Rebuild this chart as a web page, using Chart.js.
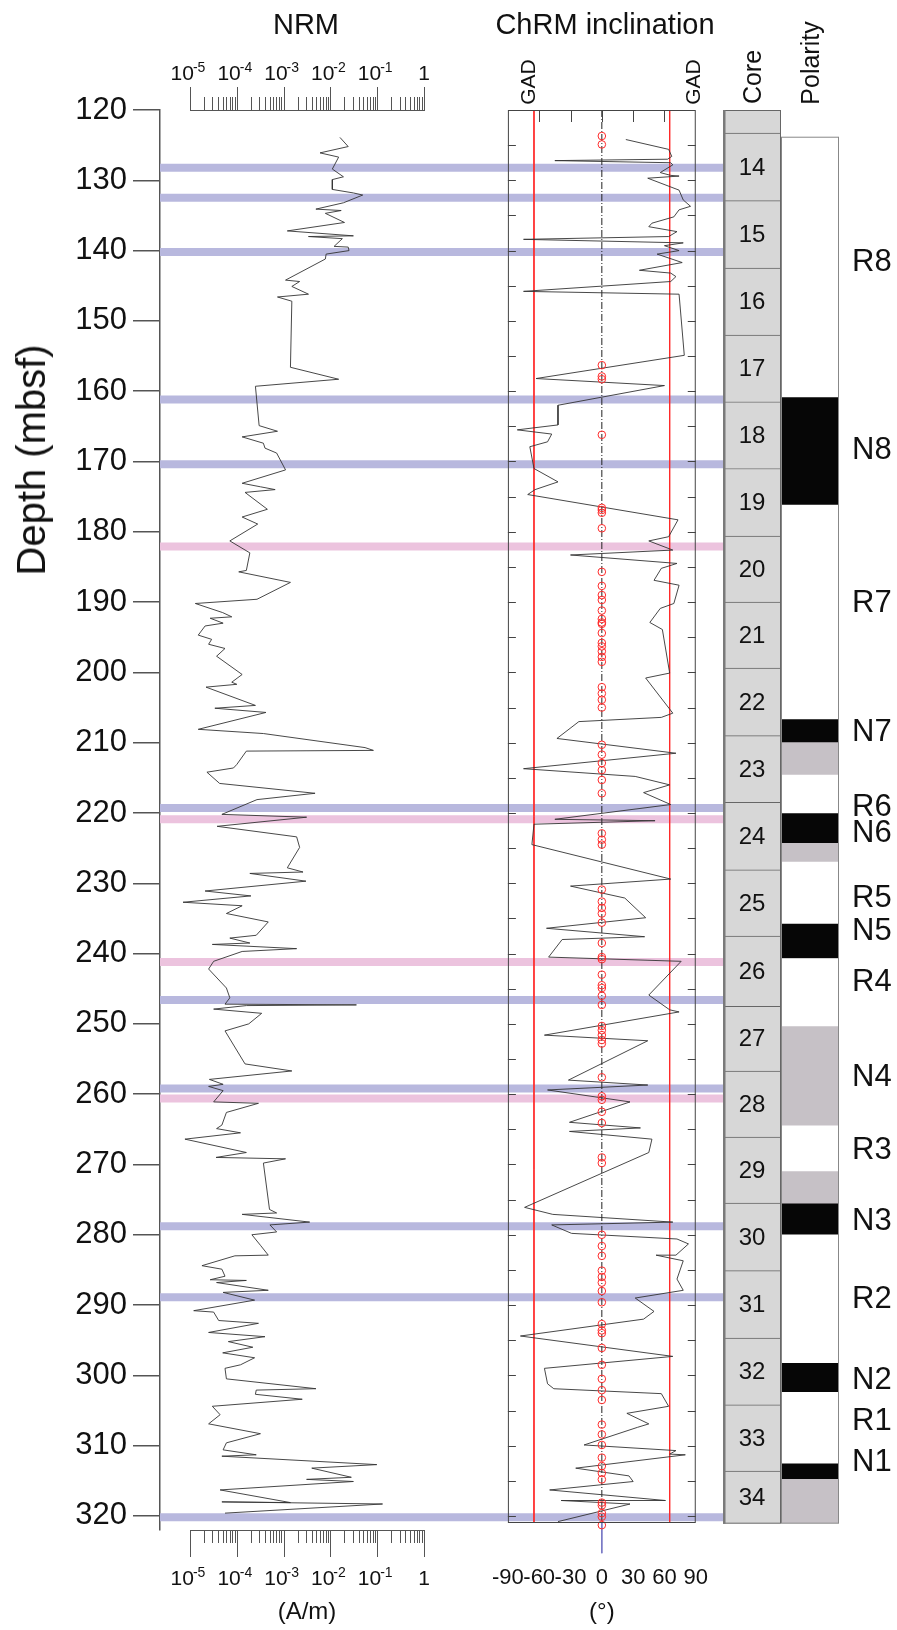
<!DOCTYPE html>
<html>
<head>
<meta charset="utf-8">
<script src="https://cdn.jsdelivr.net/npm/chart.js@4.4.1/dist/chart.umd.min.js"></script>
<style>
  body { margin: 0; background: #fff; }
  #wrap { position: relative; width: 897px; height: 1630px; font-family: Arial, "Liberation Sans", sans-serif; color: #111; }
  canvas { position: absolute; top: 0; }
  .t { position: absolute; white-space: nowrap; line-height: 1; transform: translate(-50%, -50%); }
  .r { transform: translate(-50%, -50%) rotate(-90deg); }
</style>
</head>
<body>
<div id="wrap">
  <canvas id="depthChart" width="723" height="1630" style="left:0"></canvas>
  <canvas id="nrmChart" width="300" height="1630" style="left:150px"></canvas>
  <canvas id="incChart" width="300" height="1630" style="left:450px"></canvas>
  <canvas id="coreChart" width="174" height="1630" style="left:723px"></canvas>

  <div class="t" style="left:306px;top:24px;font-size:29px">NRM</div>
  <div class="t" style="left:605px;top:24px;font-size:29px">ChRM inclination</div>
  <div class="t r" style="left:527px;top:82px;font-size:21px">GAD</div>
  <div class="t r" style="left:692px;top:82px;font-size:21px">GAD</div>
  <div class="t r" style="left:752px;top:77px;font-size:25px">Core</div>
  <div class="t r" style="left:810px;top:63px;font-size:25px">Polarity</div>
  <div class="t r" style="left:31px;top:460px;font-size:40px">Depth (mbsf)</div>
</div>

<script>
// depth axis
const depthTicks = [120, 130, 140, 150, 160, 170, 180, 190, 200, 210, 220, 230, 240, 250, 260, 270, 280, 290, 300, 310, 320];

// horizontal marker bands (depth, mbsf)
const blueBands = [128.2, 132.5, 140.2, 161.2, 170.4, 219.3, 246.6, 259.2, 278.8, 288.9, 320.2];
const pinkBands = [182.1, 220.9, 241.2, 260.6];

// NRM intensity (A/m)
const nrmTickValues = [1e-5, 1e-4, 1e-3, 1e-2, 1e-1, 1];
const nrmTickBase = ['10', '10', '10', '10', '10', '1'];
const nrmTickExp = ['-5', '-4', '-3', '-2', '-1', ''];
const nrmDepth = [
  123.9, 125.2, 126.1, 126.7, 128.4, 129.5, 129.9, 131.3, 131.8, 132.1,
  133.2, 134.1, 134.3, 134.7, 136.0, 137.2, 137.9, 138.0, 138.3, 139.4,
  139.5, 140.0, 140.5, 141.2, 144.2, 144.4, 145.1, 146.2, 146.6, 147.2,
  156.6, 158.3, 159.3, 164.9, 165.7, 166.5, 167.4, 168.1, 168.8, 171.2,
  173.1, 173.6, 174.0, 174.4, 176.8, 177.9, 178.9, 181.3, 183.0, 185.5,
  185.7, 187.2, 189.6, 190.2, 191.5, 192.1, 192.3, 193.0, 193.4, 194.7,
  195.3, 196.0, 196.6, 197.7, 200.3, 201.4, 201.7, 202.1, 204.7, 205.1,
  205.7, 208.1, 208.7, 210.7, 211.1, 211.2, 213.1, 213.6, 214.2, 215.8,
  217.2, 218.1, 220.2, 220.6, 221.9, 223.4, 224.9, 227.8, 228.4, 228.6,
  229.7, 231.1, 231.8, 232.7, 233.2, 234.3, 235.5, 237.4, 237.8, 238.5,
  238.7, 239.3, 239.7, 241.1, 242.2, 244.9, 246.3, 247.2, 247.3, 247.4,
  247.9, 248.5, 250.0, 251.0, 255.7, 256.7, 257.9, 258.6, 258.9, 259.5,
  261.1, 261.3, 262.6, 264.4, 264.9, 265.5, 266.4, 268.3, 269.0, 269.2,
  269.8, 276.4, 276.9, 277.1, 278.2, 278.6, 279.6, 280.0, 281.5, 282.9,
  283.0, 284.4, 284.9, 285.9, 286.4, 286.5, 286.8, 287.9, 288.2, 289.3,
  290.8, 291.0, 292.2, 292.6, 293.9, 294.5, 295.2, 296.0, 296.8, 297.5,
  298.5, 299.0, 300.5, 301.9, 302.1, 302.7, 303.4, 304.4, 305.6, 306.9,
  308.3, 309.6, 310.6, 311.3, 311.5, 312.7, 313.2, 314.5, 314.8, 315.1,
  316.3, 318.1, 318.0, 318.3, 319.6
];
const nrmValue = [
  1.6e-2, 2.4e-2, 6.0e-3, 1.5e-2, 1.1e-2, 1.9e-2, 1.1e-2, 1.1e-2, 3.1e-2, 4.9e-2,
  1.9e-2, 4.9e-3, 1.7e-2, 7.8e-3, 2.0e-2, 1.2e-3, 3.1e-2, 3.4e-3, 1.8e-2, 1.2e-2,
  2.4e-2, 2.5e-2, 8.1e-3, 7.8e-3, 1.1e-3, 2.2e-3, 1.5e-3, 3.4e-3, 7.4e-4, 1.5e-3,
  1.4e-3, 1.5e-2, 2.5e-4, 3.0e-4, 7.4e-4, 1.3e-4, 3.7e-4, 4.0e-4, 7.1e-4, 1.1e-3,
  1.3e-4, 3.2e-4, 6.6e-4, 1.5e-4, 4.5e-4, 1.3e-4, 2.8e-4, 7.1e-5, 1.9e-4, 1.6e-4,
  1.1e-4, 1.4e-3, 2.7e-4, 1.3e-5, 5.0e-5, 7.8e-5, 2.7e-5, 5.1e-5, 2.1e-5, 1.5e-5,
  2.9e-5, 2.5e-5, 5.6e-5, 3.7e-5, 1.3e-4, 7.8e-5, 1.0e-4, 2.2e-5, 2.5e-4, 3.4e-5,
  4.2e-4, 1.5e-5, 3.7e-4, 5.5e-2, 8.3e-2, 1.6e-4, 1.0e-4, 8.5e-5, 2.3e-5, 4.3e-5,
  4.7e-3, 2.7e-4, 4.8e-5, 3.1e-3, 3.8e-5, 1.9e-3, 2.2e-3, 1.2e-3, 2.6e-3, 1.9e-4,
  3.0e-3, 2.1e-5, 2.0e-4, 7.1e-6, 1.3e-4, 6.0e-5, 4.7e-4, 2.6e-4, 7.1e-5, 1.9e-4,
  3.0e-5, 1.9e-3, 1.3e-4, 3.2e-5, 2.5e-5, 6.0e-5, 7.1e-5, 5.6e-5, 3.6e-2, 1.6e-4,
  3.2e-5, 3.4e-4, 1.8e-4, 5.6e-5, 1.5e-4, 1.5e-3, 2.6e-5, 5.1e-5, 2.5e-5, 5.1e-5,
  3.2e-5, 2.9e-4, 6.0e-5, 4.8e-5, 3.7e-5, 1.2e-4, 7.8e-6, 1.6e-4, 3.6e-5, 1.1e-3,
  3.7e-4, 5.0e-4, 7.1e-4, 1.3e-4, 3.6e-3, 5.1e-4, 7.1e-4, 2.1e-4, 3.2e-4, 4.7e-4,
  9.1e-5, 1.8e-5, 4.8e-5, 5.6e-5, 2.7e-5, 1.6e-4, 3.7e-5, 4.7e-4, 5.1e-5, 2.4e-4,
  1.2e-5, 3.2e-5, 4.1e-5, 2.9e-4, 2.5e-5, 4.0e-4, 6.6e-5, 2.2e-4, 5.0e-5, 2.4e-4,
  1.2e-4, 5.6e-5, 6.0e-5, 4.9e-3, 2.6e-4, 2.5e-4, 2.5e-3, 3.0e-5, 4.4e-5, 2.5e-5,
  3.2e-4, 6.0e-5, 5.1e-5, 2.6e-4, 4.8e-5, 9.8e-2, 4.0e-3, 2.8e-2, 3.1e-3, 3.1e-2,
  4.4e-5, 1.4e-3, 4.8e-5, 1.3e-1, 5.6e-5
];

// ChRM inclination (degrees)
const incTicks = [-90, -60, -30, 0, 30, 60, 90];
const incTopTicks = [-60, -30, 0, 30, 60];
const gadInc = 65;
const incDepth = [
  124.2, 125.6, 126.6, 127.0, 127.2, 127.5, 127.8, 128.9, 129.3, 129.4,
  129.7, 131.4, 132.8, 133.7, 134.2, 135.2, 136.1, 136.6, 137.3, 138.0,
  138.4, 138.9, 139.3, 140.0, 140.5, 141.7, 142.8, 143.2, 143.7, 144.4,
  145.8, 146.2, 154.9, 158.2, 159.2, 162.0, 164.8, 165.5, 166.1, 167.2,
  167.9, 171.0, 172.9, 174.0, 174.7, 178.3, 180.7, 181.3, 182.6, 183.3,
  184.5, 185.2, 186.9, 187.6, 190.2, 190.9, 192.9, 193.9, 200.1, 200.8,
  205.8, 206.4, 207.0, 209.4, 211.5, 213.7, 214.8, 216.0, 217.1, 218.8,
  220.9, 221.1, 221.6, 224.5, 229.4, 230.4, 232.1, 234.9, 236.4, 237.6,
  238.0, 240.5, 241.1, 245.9, 248.0, 248.3, 251.6, 252.4, 258.0, 258.7,
  259.4, 261.1, 264.0, 264.8, 265.3, 266.4, 268.3, 276.1, 277.1, 278.2,
  278.6, 279.8, 280.6, 281.3, 282.9, 282.9, 283.7, 286.3, 287.9, 289.0,
  290.9, 292.0, 294.4, 297.3, 299.0, 301.2, 301.9, 302.6, 304.4, 305.4,
  306.9, 307.4, 309.9, 310.7, 311.2, 311.3, 313.2, 314.3, 315.1, 316.3,
  317.8, 317.8, 318.3, 320.8
];
const incValue = [
  23, 64, 67, 63, -45, 66, 68, 56, 66, 74,
  44, 74, 78, 85, 74, 69, 48, 45, 72, 64,
  -75, 78, 60, 74, 53, 77, 36, 66, 71, 66,
  -75, 74, 79, -63, 60, -42, -42, -81, -48, -52,
  -69, -65, -42, -64, -71, 73, 64, 45, 68, -30,
  72, 57, 50, 74, 69, 56, 46, 58, 65, 42,
  68, 57, -22, -43, 71, -75, 32, 65, 40, 66,
  -45, 51, -65, -67, 66, -30, 22, 42, -53, 41,
  -38, -51, 76, 45, 65, 74, -55, 44, -32, 44,
  -52, 27, -31, 37, -31, 48, 45, -74, -47, 68,
  -48, -29, 72, 83, 71, 52, 78, 72, 78, 32,
  50, 40, -78, 68, -55, -52, -46, 57, 64, 24,
  45, 34, -17, 71, 65, 80, -25, 26, 30, -50,
  61, -39, 27, -42
];
// samples plotted on the zero line (red circles)
const zeroDepth = [
  123.7, 124.9, 156.3, 157.9, 158.3, 166.2, 176.6, 176.9, 177.3, 179.5,
  185.7, 187.7, 189.0, 189.7, 191.2, 192.4, 192.9, 193.1, 194.4, 195.8,
  196.3, 197.0, 197.8, 198.5, 202.1, 203.0, 203.9, 205.0, 210.3, 211.7,
  212.9, 213.9, 215.3, 217.2, 222.9, 223.8, 224.5, 230.9, 232.6, 233.5,
  234.3, 235.6, 238.5, 240.5, 240.8, 243.0, 244.5, 244.9, 246.0, 247.3,
  250.3, 250.9, 251.6, 252.3, 252.8, 257.6, 260.3, 260.8, 262.5, 264.1,
  269.0, 269.8, 280.0, 281.6, 283.0, 285.1, 286.0, 286.8, 288.0, 289.6,
  292.7, 293.6, 294.0, 296.1, 298.5, 300.5, 302.1, 303.5, 307.0, 308.4,
  309.9, 311.7, 312.9, 313.9, 314.8, 318.1, 318.5, 319.6, 320.1, 321.3
];

// cores
const coreName = ['', '14', '15', '16', '17', '18', '19', '20', '21', '22', '23', '24', '25', '26', '27', '28', '29', '30', '31', '32', '33', '34'];
const coreTop = [120, 123.3, 132.9, 142.5, 152.0, 161.5, 171.0, 180.6, 190.0, 199.4, 209.0, 218.5, 228.1, 237.5, 247.5, 256.7, 266.1, 275.5, 285.1, 294.7, 304.2, 313.6];
const coreBottom = [123.3, 132.9, 142.5, 152.0, 161.5, 171.0, 180.6, 190.0, 199.4, 209.0, 218.5, 228.1, 237.5, 247.5, 256.7, 266.1, 275.5, 285.1, 294.7, 304.2, 313.6, 321.1];

// polarity zones: N normal, R reversed, U uncertain
const polTop = [123.8, 160.9, 176.2, 206.7, 210.0, 214.6, 220.1, 224.3, 227.0, 235.8, 240.7, 250.4, 264.5, 271.0, 275.6, 280.0, 298.3, 302.4, 312.6, 314.8];
const polBottom = [160.9, 176.2, 206.7, 210.0, 214.6, 220.1, 224.3, 227.0, 235.8, 240.7, 250.4, 264.5, 271.0, 275.6, 280.0, 298.3, 302.4, 312.6, 314.8, 321.1];
const polType = ['R', 'N', 'R', 'N', 'U', 'R', 'N', 'U', 'R', 'N', 'R', 'U', 'R', 'U', 'N', 'R', 'N', 'R', 'N', 'U'];
const polLabel = ['R8', 'N8', 'R7', 'N7', 'R6', 'N6', 'R5', 'N5', 'R4', 'N4', 'R3', 'N3', 'R2', 'N2', 'R1', 'N1'];
const polLabelDepth = [141.5, 168.3, 190.1, 208.4, 219.0, 222.8, 232.0, 236.7, 243.9, 257.5, 267.9, 277.9, 289.1, 300.6, 306.4, 312.3];

const FONT = 'Arial, "Liberation Sans", sans-serif';
Chart.defaults.font.family = FONT;
Chart.defaults.color = '#111';

const polColors = { N: '#060606', R: '#ffffff', U: '#c6c1c6' };
const hidden = { legend: { display: false }, tooltip: { enabled: false } };

// ---- background: depth axis + marker bands
function band(d, color) {
  return { data: [{ x: 0, y: d }, { x: 1, y: d }], borderColor: color, borderWidth: 8, pointRadius: 0 };
}
new Chart(document.getElementById('depthChart'), {
  type: 'line',
  data: { datasets: [...blueBands.map(d => band(d, '#b8b8de')), ...pinkBands.map(d => band(d, '#ecc3de'))] },
  options: {
    responsive: false, animation: false, events: [],
    layout: { padding: { top: 110, bottom: 100, left: 0, right: 0 } },
    scales: {
      x: { type: 'linear', min: 0, max: 1, display: false },
      y: {
        type: 'linear', reverse: true, min: 120, max: 322, position: 'left', z: 1,
        afterBuildTicks: s => { s.ticks = depthTicks.map(v => ({ value: v })); },
        afterFit: s => { s.width = 160; },
        grid: { drawOnChartArea: false, tickLength: 27, color: '#555', lineWidth: 1.5 },
        border: { color: '#555', width: 1.5 },
        ticks: { font: { size: 31 }, color: '#111', padding: 6 }
      }
    },
    plugins: hidden
  }
});

// ---- NRM panel
const isDecade = v => Math.abs(Math.log10(v) - Math.round(Math.log10(v))) < 1e-6;
function nrmAxisTicks(s) {
  const t = [];
  nrmTickValues.forEach((d, i) => {
    if (i === nrmTickValues.length - 1) { t.push({ value: d }); return; }
    for (let m = 1; m < 10; m++) t.push({ value: d * m });
  });
  s.ticks = t;
}
// tick marks (long at decades) and 10^n labels with raised exponents
const nrmTickPlugin = {
  id: 'nrmTicks',
  afterDraw(chart) {
    const { ctx, chartArea: a } = chart;
    ctx.save();
    ctx.strokeStyle = '#555';
    ctx.lineWidth = 1;
    ctx.beginPath();
    [['x', 1, 27], ['x2', -1, 23]].forEach(([id, dir, len]) => {
      const s = chart.scales[id];
      const y0 = dir > 0 ? a.bottom : a.top;
      s.ticks.forEach(t => {
        const px = Math.round(s.getPixelForValue(t.value)) + 0.5;
        ctx.moveTo(px, y0);
        ctx.lineTo(px, y0 + dir * (isDecade(t.value) ? len : 13));
      });
    });
    ctx.stroke();

    ctx.fillStyle = '#111';
    ctx.textBaseline = 'alphabetic';
    ctx.textAlign = 'left';
    [['x', a.bottom + 55], ['x2', a.top - 30]].forEach(([id, base]) => {
      const s = chart.scales[id];
      nrmTickValues.forEach((v, i) => {
        const px = s.getPixelForValue(v);
        ctx.font = '21px ' + FONT;
        const w1 = ctx.measureText(nrmTickBase[i]).width;
        ctx.font = '14px ' + FONT;
        const w2 = nrmTickExp[i] ? ctx.measureText(nrmTickExp[i]).width - 1 : 0;
        const x0 = px - (w1 + w2) / 2 - (nrmTickExp[i] ? 2 : 0);
        ctx.font = '21px ' + FONT;
        ctx.fillText(nrmTickBase[i], x0, base);
        if (nrmTickExp[i]) {
          ctx.font = '14px ' + FONT;
          ctx.fillText(nrmTickExp[i], x0 + w1 - 1, base - 8);
        }
      });
    });
    ctx.restore();
  }
};
const logAxis = (pos, height) => ({
  type: 'logarithmic', position: pos, min: 1e-5, max: 1,
  afterBuildTicks: nrmAxisTicks,
  afterFit: s => { s.height = height; },
  grid: { display: false, drawTicks: false },
  border: { display: true, color: '#555', width: 1 },
  ticks: { autoSkip: false, maxRotation: 0, minRotation: 0, callback: () => '' }
});
const nrmBottom = logAxis('bottom', 100);
nrmBottom.title = { display: true, text: '(A/m)', font: { size: 24 }, color: '#111', padding: { top: 0, bottom: 3 } };
new Chart(document.getElementById('nrmChart'), {
  type: 'line',
  data: { datasets: [{ data: nrmDepth.map((d, i) => ({ x: nrmValue[i], y: d })), borderColor: '#333', borderWidth: 0.9, pointRadius: 0, tension: 0, clip: false }] },
  options: {
    responsive: false, animation: false, events: [],
    layout: { padding: { left: 40, right: 26, top: 0, bottom: 0 } },
    scales: {
      x: nrmBottom,
      x2: logAxis('top', 110),
      y: { type: 'linear', display: false, reverse: true, min: 120, max: 322 }
    },
    plugins: hidden
  },
  plugins: [nrmTickPlugin]
});

// ---- ChRM inclination panel
const incBoxPlugin = {
  id: 'incBox',
  afterDatasetsDraw(chart) {
    const { ctx, chartArea: a, scales: { x, y } } = chart;
    ctx.save();
    ctx.strokeStyle = '#444';
    ctx.lineWidth = 1;
    ctx.strokeRect(a.left + 0.5, a.top + 0.5, a.right - a.left - 1, a.bottom - a.top - 1);
    ctx.beginPath();
    incTopTicks.forEach(v => {
      const px = Math.round(x.getPixelForValue(v)) + 0.5;
      ctx.moveTo(px, a.top);
      ctx.lineTo(px, a.top + 12);
    });
    for (let d = 125; d <= 320; d += 5) {
      const py = Math.round(y.getPixelForValue(d)) + 0.5;
      ctx.moveTo(a.left, py); ctx.lineTo(a.left + 8, py);
      ctx.moveTo(a.right, py); ctx.lineTo(a.right - 8, py);
    }
    ctx.stroke();
    ctx.restore();
  }
};
const vline = (v, d0, d1, color, extra) => Object.assign({ data: [{ x: v, y: d0 }, { x: v, y: d1 }], borderColor: color, borderWidth: 1, pointRadius: 0 }, extra || {});
new Chart(document.getElementById('incChart'), {
  type: 'line',
  data: {
    datasets: [
      { data: zeroDepth.map(d => ({ x: 0, y: d })), showLine: false, pointRadius: 3.8, pointBorderWidth: 1, pointBorderColor: '#ff2a2a', pointBackgroundColor: 'rgba(0,0,0,0)', clip: false },
      { data: incDepth.map((d, i) => ({ x: incValue[i], y: d })), borderColor: '#333', borderWidth: 0.9, pointRadius: 0, tension: 0 },
      vline(0, 120, 321, '#222', { borderDash: [7, 2, 1, 2] }),
      vline(0, 321, 325.3, '#7676c4', { clip: false }),
      vline(-gadInc, 120, 321, '#ff2a2a'),
      vline(gadInc, 120, 321, '#ff2a2a')
    ]
  },
  options: {
    responsive: false, animation: false, events: [],
    layout: { padding: { left: 46, right: 27, top: 110, bottom: 0 } },
    scales: {
      x: {
        type: 'linear', min: -90, max: 90, position: 'bottom',
        afterBuildTicks: s => { s.ticks = incTicks.map(v => ({ value: v })); },
        afterFit: s => { s.height = 107; },
        grid: { display: false, drawTicks: false },
        border: { display: false },
        ticks: { autoSkip: false, maxRotation: 0, padding: 42, font: { size: 22 }, color: '#111', callback: v => String(v) },
        title: { display: true, text: '(\u00B0)', font: { size: 24 }, color: '#111', padding: { top: 0, bottom: 3 } }
      },
      y: { type: 'linear', display: false, reverse: true, min: 120, max: 321 }
    },
    plugins: hidden
  },
  plugins: [incBoxPlugin]
});

// ---- core and polarity columns
const columnPlugin = {
  id: 'columns',
  afterDatasetsDraw(chart) {
    const { ctx, chartArea: a, scales: { y } } = chart;
    const core = chart.getDatasetMeta(0).data;
    const pol = chart.getDatasetMeta(1).data;
    ctx.save();
    const cL = core[0].x - core[0].width / 2, cW = core[0].width;
    const pL = pol[0].x - pol[0].width / 2, pW = pol[0].width;
    const yTop = y.getPixelForValue(coreTop[0]), yBot = y.getPixelForValue(coreBottom[coreBottom.length - 1]);
    const pTop = y.getPixelForValue(polTop[0]);
    ctx.strokeStyle = '#888';
    ctx.lineWidth = 1;
    ctx.strokeRect(pL + 0.5, pTop + 0.5, pW - 1, yBot - pTop - 1);
    ctx.strokeStyle = '#666';
    ctx.strokeRect(cL + 0.5, yTop + 0.5, cW - 1, yBot - yTop - 1);
    ctx.strokeStyle = '#7a7a7a';
    ctx.lineWidth = 2.5;
    ctx.beginPath();
    ctx.moveTo(cL + 1.25, yTop); ctx.lineTo(cL + 1.25, yBot);
    ctx.stroke();

    ctx.fillStyle = '#111';
    ctx.textBaseline = 'middle';
    ctx.textAlign = 'center';
    ctx.font = '24px ' + FONT;
    core.forEach((bar, i) => {
      if (!coreName[i]) return;
      const yc = (y.getPixelForValue(coreTop[i]) + y.getPixelForValue(coreBottom[i])) / 2;
      ctx.fillText(coreName[i], bar.x, yc + 1);
    });
    ctx.textAlign = 'left';
    ctx.font = '31px ' + FONT;
    polLabel.forEach((t, i) => ctx.fillText(t, a.right + 13, y.getPixelForValue(polLabelDepth[i]) + 1));
    ctx.restore();
  }
};
new Chart(document.getElementById('coreChart'), {
  type: 'bar',
  data: {
    labels: ['core', 'pol'],
    datasets: [
      { data: coreTop.map((t, i) => ({ x: 'core', y: [t, coreBottom[i]] })), backgroundColor: '#d7d7d7', borderColor: '#666', borderWidth: { top: 1, bottom: 0, left: 0, right: 0 }, borderSkipped: false },
      { data: polTop.map((t, i) => ({ x: 'pol', y: [t, polBottom[i]] })), backgroundColor: polType.map(c => polColors[c]), borderWidth: 0 }
    ]
  },
  options: {
    responsive: false, animation: false, events: [],
    datasets: { bar: { grouped: false, barPercentage: 1, categoryPercentage: 1 } },
    layout: { padding: { top: 110, bottom: 107, left: 0, right: 58 } },
    scales: {
      x: { display: false },
      y: { type: 'linear', display: false, reverse: true, min: 120, max: 321 }
    },
    plugins: hidden
  },
  plugins: [columnPlugin]
});
</script>
</body>
</html>
